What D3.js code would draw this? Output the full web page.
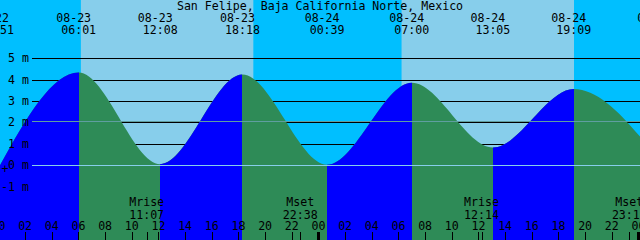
<!DOCTYPE html>
<html>
<head>
<meta charset="utf-8">
<script src="https://cdn.jsdelivr.net/npm/d3@7"></script>
<style>
html,body{margin:0;padding:0;background:#fff;}
svg{display:block;}
text{font-family:"DejaVu Sans Mono",monospace;font-size:11.6px;fill:#000;}
</style>
</head>
<body>
<script>
// ---- data ----
const title = "San Felipe, Baja California Norte, Mexico";
const tideTimes   = ["08-22 23:51","08-23 06:01","08-23 12:08","08-23 18:18","08-24 00:39","08-24 07:00","08-24 13:05","08-24 19:09","08-25 01:36"];
const tideHeights = [-0.30, 4.34, 0.05, 4.24, 0.02, 3.86, 0.83, 3.56, 0.20];
const sunTimes    = ["08-23 06:11","08-23 19:07","08-24 06:14","08-24 19:10"]; // rise, set, rise, set
const moonTimes   = ["08-23 11:07","08-23 22:38","08-24 12:14","08-24 23:19"];
const moonLabels  = ["Mrise","Mset","Mrise","Mset"];
const levelTicks  = [-1,0,1,2,3,4,5];
const mslLevel    = 2.09;
const windowStart = "08-23 00:07";
const windowEnd   = "08-25 00:07";

// ---- setup ----
const W = 640, H = 240;
const parse = d3.timeParse("%m-%d %H:%M");
const fmtDate = d3.timeFormat("%m-%d");
const fmtTime = d3.timeFormat("%H:%M");

const x = d3.scaleTime().domain([parse(windowStart), parse(windowEnd)]).range([0, W]);
const y = d3.scaleLinear().domain([0, 5]).range([165.2, 58.3]);

const svg = d3.select("body").append("svg").attr("width", W).attr("height", H);

// sky
svg.append("rect").attr("x",0).attr("y",0).attr("width",W).attr("height",H).attr("fill","#00BFFF");
for (let i = 0; i < sunTimes.length; i += 2) {
  const a = x(parse(sunTimes[i])), b = x(parse(sunTimes[i+1]));
  svg.append("rect").attr("x",a).attr("y",0).attr("width",b-a).attr("height",H).attr("fill","#87CEEB");
}

// grid lines
svg.append("g").selectAll("line").data(levelTicks).join("line")
  .attr("x1",32).attr("x2",W)
  .attr("y1",d=>Math.round(y(d))+0.5).attr("y2",d=>Math.round(y(d))+0.5)
  .attr("stroke","#000").attr("stroke-width",1);

// tide
const tide = tideTimes.map((t,i)=>({t:parse(t), v:tideHeights[i]}));
const area = d3.area().x(d=>x(d.t)).y0(H).y1(d=>y(d.v)).curve(d3.curveMonotoneX);
svg.append("path").attr("d", area(tide)).attr("fill","#2E8B57");
const defs = svg.append("defs");
for (let i = 0; i < tide.length-1; i++) {
  if (tide[i+1].v > tide[i].v) {
    const a = x(tide[i].t), b = x(tide[i+1].t);
    const id = "clip"+i;
    defs.append("clipPath").attr("id",id).append("rect")
      .attr("x",Math.round(a)).attr("y",0).attr("width",Math.round(b)-Math.round(a)).attr("height",H);
    svg.append("path").attr("d", area(tide)).attr("fill","#0000FF").attr("clip-path","url(#"+id+")");
  }
}

// MSL and datum lines
svg.append("line").attr("x1",32).attr("x2",W).attr("y1",Math.round(y(mslLevel))+0.5).attr("y2",Math.round(y(mslLevel))+0.5)
  .attr("stroke","#5F9EA0").attr("stroke-width",1);
svg.append("line").attr("x1",32).attr("x2",W).attr("y1",Math.round(y(0))+0.5).attr("y2",Math.round(y(0))+0.5)
  .attr("stroke","#87CEEB").attr("stroke-width",1);

// level labels
svg.append("g").selectAll("text").data(levelTicks).join("text")
  .attr("x",29).attr("y",d=>y(d)+4).attr("text-anchor","end")
  .text(d=>d+" m");
svg.append("text").attr("x",5).attr("y",172.5).attr("text-anchor","middle").text("+");

// title
svg.append("text").attr("x",W/2).attr("y",10).attr("text-anchor","middle").text(title);

// extrema labels
const ext = svg.append("g");
tide.forEach(d=>{
  ext.append("text").attr("x",x(d.t)-5).attr("y",21.7).attr("text-anchor","middle").text(fmtDate(d.t));
  ext.append("text").attr("x",x(d.t)).attr("y",34).attr("text-anchor","middle").text(fmtTime(d.t));
});

// hour ticks
const hours = d3.timeHour.every(2).range(parse("08-23 00:00"), d3.timeMinute.offset(parse(windowEnd),1));
const axisG = svg.append("g");
hours.forEach(h=>{
  const px = x(h);
  const mid = h.getHours()===0;
  axisG.append("line").attr("x1",Math.round(px)+0.5).attr("x2",Math.round(px)+0.5)
    .attr("y1",232).attr("y2",H).attr("stroke","#000").attr("stroke-width",mid?3:1);
  axisG.append("text").attr("x",px).attr("y",229.5).attr("text-anchor","middle").text(d3.timeFormat("%H")(h));
});

// moon events
moonTimes.forEach((t,i)=>{
  const d = parse(t), px = x(d);
  axisG.append("line").attr("x1",Math.round(px)+0.5).attr("x2",Math.round(px)+0.5)
    .attr("y1",232).attr("y2",H).attr("stroke","#000").attr("stroke-width",1);
  axisG.append("text").attr("x",px).attr("y",206).attr("text-anchor","middle").text(moonLabels[i]);
  axisG.append("text").attr("x",px).attr("y",218.5).attr("text-anchor","middle").text(fmtTime(d));
});
</script>
</body>
</html>
